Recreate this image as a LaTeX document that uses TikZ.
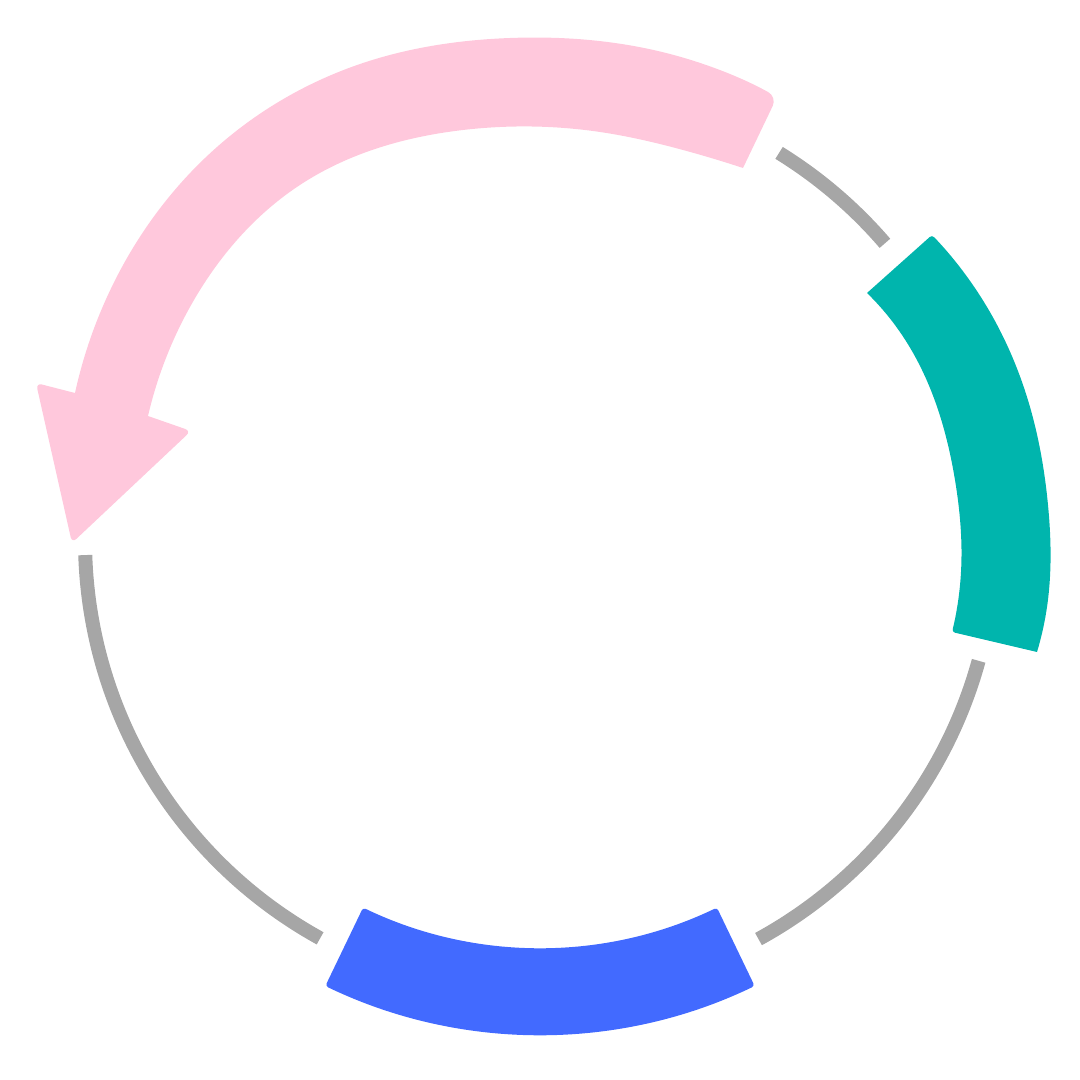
\documentclass[tikz,border=0pt]{standalone}
\usetikzlibrary{calc, hobby}
\definecolor{pinkarc}{RGB}{255,200,220}
\definecolor{tealarc}{RGB}{0,181,173}
\definecolor{bluearc}{RGB}{66,106,255}
\definecolor{grayarc}{RGB}{166,166,166}
\begin{document}
\begin{tikzpicture}[ring/.style={draw=grayarc, line width=0.14cm},
  band/.style={rounded corners=0.03cm}]
\useasboundingbox (-5.4,-5.4) rectangle (5.4,5.4);
% gray ring pieces
\foreach \a/\b in {181.9/241.1, 298.7/344.6, 40.7/58.3}
{
    \draw[ring] (\a:4.55) arc (\a:\b:4.55);
}
% blue band
\fill[bluearc, band] (244.3:4.08) arc (244.3:295.7:4.08) -- (295.7:4.95) arc (295.7:244.3:4.95) -- cycle;
% teal band
\fill[tealarc] (3.92,3.05) to[curve through={(4.47,2.33) .. (4.90,1.33) .. (5.08,0.35) .. (5.07,-0.67)}] (4.97,-1.12)
  [band] -- (4.12,-0.92) [sharp corners] to[curve through={(4.21,-0.32) .. (4.15,0.60) .. (3.92,1.47) .. (3.62,2.05)}] (3.27,2.47)
  [band] -- cycle;
% pink arrow
\fill[pinkarc] (2.37,4.43) to[curve through={(1.30,4.86) .. (-0.30,5.02) .. (-1.77,4.77) .. (-3.23,3.93) .. (-4.33,2.43)}] (-4.65,1.47)
  [rounded corners=0.06cm] -- (-5.04,1.57) -- (-4.68,-0.03) -- (-3.49,1.09) [sharp corners]
  -- (-3.92,1.24) to[curve through={(-3.50,2.33) .. (-2.37,3.57) .. (-0.77,4.10) .. (0.60,4.08) .. (1.43,3.90)}] (2.03,3.72)
  [rounded corners=0.1cm] -- cycle;
\end{tikzpicture}
\end{document}
